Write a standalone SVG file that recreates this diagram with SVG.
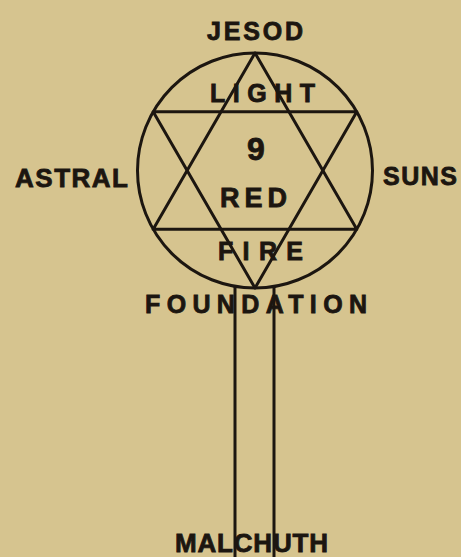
<svg xmlns="http://www.w3.org/2000/svg" width="461" height="557" viewBox="0 0 461 557">
<style>
.ln{fill:none;stroke:#1c1610;stroke-width:3;stroke-linejoin:round}
.t{font-family:"Liberation Sans",Arial,sans-serif;font-weight:bold;fill:#1c1610;stroke:#1c1610;stroke-width:0.8;font-size:25px}
</style>
<rect width="461" height="557" fill="#d6c48f"/>
<g id="connectors">
<line class="ln" x1="235" y1="286" x2="235" y2="557"/>
<line class="ln" x1="274" y1="286" x2="274" y2="557"/>
</g>
<g id="seal">
<circle class="ln" cx="255" cy="170.5" r="117.5"/>
<polygon class="ln" points="255,53 153.2,229.25 356.8,229.25"/>
<polygon class="ln" points="255,288 153.2,111.75 356.8,111.75"/>
</g>
<g id="jesod"><text class="t" x="207" y="40" textLength="96" lengthAdjust="spacing">JESOD</text></g>
<g id="light"><text class="t" x="210" y="102" textLength="105" lengthAdjust="spacing">LIGHT</text></g>
<g id="nine"><text class="t" x="256" y="160" text-anchor="middle" style="font-size:32px">9</text></g>
<g id="red"><text class="t" x="220" y="207" textLength="67" lengthAdjust="spacing" style="font-size:27px">RED</text></g>
<g id="fire"><text class="t" x="218" y="260" textLength="85" lengthAdjust="spacing">FIRE</text></g>
<g id="astral"><text class="t" x="15" y="187" textLength="113" lengthAdjust="spacing" style="font-size:26px">ASTRAL</text></g>
<g id="suns"><text class="t" x="383" y="185" textLength="74" lengthAdjust="spacing">SUNS</text></g>
<g id="foundation"><text class="t" x="145" y="313" textLength="222" lengthAdjust="spacing">FOUNDATION</text></g>
<g id="malchuth"><text class="t" x="175" y="552" textLength="153" lengthAdjust="spacing" style="font-size:26px">MALCHUTH</text></g>
</svg>
